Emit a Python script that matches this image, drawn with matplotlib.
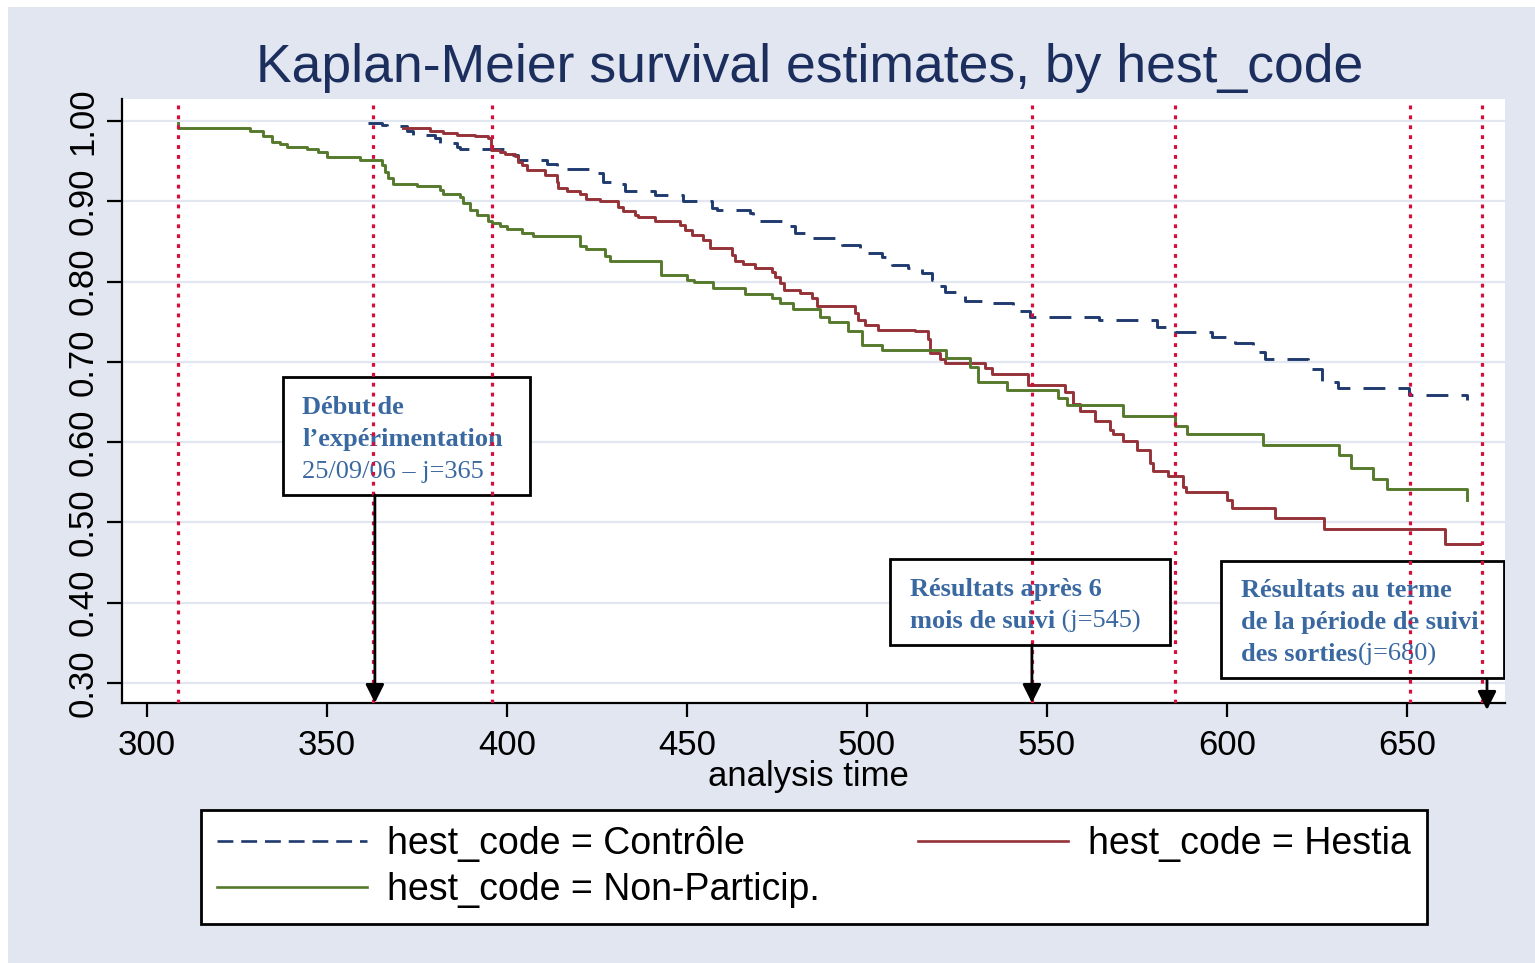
import matplotlib
matplotlib.use('Agg')
import matplotlib.pyplot as plt
from matplotlib.patches import Rectangle
from matplotlib.lines import Line2D

# ---------------- data ----------------
ctrl_t = [361.5, 365.2, 366.6, 372.1, 374.0, 380.0, 381.4, 386.0, 386.9, 401.8,
          403.1, 411.0, 413.8, 424.4, 426.8, 429.1, 432.8, 441.1, 449.0, 456.9,
          458.3, 467.5, 468.4, 470.3, 478.6, 480.0, 483.7, 493.0, 498.1, 504.1,
          506.8, 511.5, 515.2, 518.0, 518.9, 521.7, 524.9, 527.2, 533.2, 540.6,
          545.3, 564.3, 580.5, 585.6, 595.7, 602.2, 607.3, 610.6, 622.6, 626.3,
          630.9, 650.4, 666.6]
ctrl_s = [0.997, 0.995, 0.994, 0.987, 0.983, 0.979, 0.973, 0.968, 0.965, 0.958,
          0.951, 0.947, 0.940, 0.935, 0.924, 0.922, 0.913, 0.908, 0.900, 0.891,
          0.889, 0.885, 0.880, 0.875, 0.869, 0.861, 0.854, 0.846, 0.835, 0.830,
          0.821, 0.817, 0.811, 0.802, 0.794, 0.787, 0.782, 0.776, 0.773, 0.763,
          0.756, 0.752, 0.744, 0.737, 0.731, 0.723, 0.712, 0.704, 0.691, 0.675,
          0.668, 0.659, 0.653]

hest_t = [371.0, 378.6, 382.3, 386.0, 391.1, 394.8, 395.5, 398.1, 399.4, 402.2,
          403.1, 404.1, 405.5, 410.6, 413.8, 414.3, 416.6, 420.3, 421.9, 425.8,
          430.9, 432.3, 435.6, 436.5, 441.1, 448.1, 449.4, 451.3, 454.5, 456.4,
          462.4, 463.3, 465.6, 468.9, 473.5, 474.4, 475.8, 476.8, 481.4, 484.6,
          486.0, 496.7, 497.6, 499.4, 503.1, 513.3, 516.8, 517.5, 520.3, 521.7,
          532.8, 534.6, 544.8, 555.0, 557.3, 559.2, 563.3, 567.5, 568.4, 571.2,
          574.9, 578.6, 579.5, 583.7, 587.9, 588.6, 599.9, 601.3, 613.3, 626.8,
          660.6, 670.3]
hest_s = [0.991, 0.988, 0.985, 0.983, 0.981, 0.979, 0.964, 0.961, 0.959, 0.956,
          0.949, 0.945, 0.939, 0.933, 0.924, 0.916, 0.913, 0.909, 0.903, 0.900,
          0.893, 0.888, 0.883, 0.880, 0.875, 0.871, 0.864, 0.858, 0.852, 0.842,
          0.833, 0.825, 0.822, 0.817, 0.812, 0.806, 0.798, 0.790, 0.786, 0.779,
          0.770, 0.761, 0.752, 0.746, 0.740, 0.738, 0.729, 0.711, 0.704, 0.698,
          0.692, 0.685, 0.671, 0.662, 0.648, 0.639, 0.626, 0.615, 0.610, 0.601,
          0.590, 0.574, 0.564, 0.558, 0.544, 0.538, 0.528, 0.518, 0.505, 0.492,
          0.473, 0.473]

nonp_t = [308.5, 308.6, 328.6, 332.1, 334.6, 336.9, 338.8, 344.4, 347.6, 349.9,
          359.2, 365.2, 366.1, 366.9, 368.4, 374.9, 381.4, 382.1, 386.9, 387.9,
          389.7, 391.6, 394.6, 395.7, 398.1, 399.9, 404.1, 407.3, 420.3, 421.9,
          427.2, 428.6, 442.9, 449.9, 451.8, 457.3, 466.1, 473.5, 475.8, 479.5,
          486.9, 489.3, 494.8, 498.5, 504.1, 521.9, 528.6, 530.7, 538.8, 553.1,
          555.5, 571.2, 585.6, 588.8, 610.1, 631.2, 634.4, 640.5, 644.5, 666.6]
nonp_s = [0.998, 0.991, 0.988, 0.981, 0.974, 0.971, 0.968, 0.965, 0.962, 0.955,
          0.952, 0.945, 0.937, 0.929, 0.922, 0.919, 0.914, 0.909, 0.905, 0.898,
          0.889, 0.883, 0.875, 0.873, 0.869, 0.866, 0.860, 0.857, 0.844, 0.841,
          0.832, 0.825, 0.808, 0.802, 0.799, 0.792, 0.785, 0.779, 0.773, 0.766,
          0.756, 0.750, 0.738, 0.721, 0.715, 0.705, 0.694, 0.675, 0.665, 0.655,
          0.646, 0.632, 0.620, 0.610, 0.597, 0.584, 0.568, 0.554, 0.541, 0.528]

series_labels = ["hest_code = Contrôle", "hest_code = Hestia", "hest_code = Non-Particip."]
x_ticks = [300, 350, 400, 450, 500, 550, 600, 650]
y_ticks = [0.30, 0.40, 0.50, 0.60, 0.70, 0.80, 0.90, 1.00]
marker_days = [308.6, 362.8, 395.8, 545.8, 585.6, 650.8, 670.8]

title = "Kaplan-Meier survival estimates, by hest_code"
xlabel = "analysis time"

# ---------------- style ----------------
C_CTRL = '#1f3a6e'
C_HEST = '#943238'
C_NONP = '#557a2c'
C_RED = '#d40f3c'
C_NOTE = '#3a68a0'
BG = '#e1e6f0'
SANS = 'Liberation Sans'
SERIF = 'Liberation Serif'

W, H = 1535, 963
fig = plt.figure(figsize=(W / 100, H / 100), dpi=100)
fig.patch.set_facecolor('white')
bg = Rectangle((8 / W, 0), 1, (H - 7) / H, transform=fig.transFigure,
               facecolor=BG, edgecolor='none', zorder=-10)
fig.add_artist(bg)

ax = fig.add_axes([122 / W, 1 - 703 / H, (1505 - 122) / W, (703 - 99) / H])
ax.set_zorder(1)
ax.set_facecolor('white')
ax.set_xlim(293.06, 677.2)
ax.set_ylim(0.275, 1.0274)

for y in y_ticks:
    ax.axhline(y, color=BG, lw=1.6, zorder=1)

lw = 2.1
ax.step(ctrl_t, ctrl_s, where='post', color=C_CTRL, lw=lw, ls=(0, (7.5, 4.5)), zorder=3)
ax.step(hest_t, hest_s, where='post', color=C_HEST, lw=lw, zorder=3)
ax.step(nonp_t, nonp_s, where='post', color=C_NONP, lw=lw, zorder=3)

for spine in ['top', 'right']:
    ax.spines[spine].set_visible(False)
for spine in ['left', 'bottom']:
    ax.spines[spine].set_linewidth(1.6)
    ax.spines[spine].set_color('black')

ax.set_xticks(x_ticks)
ax.set_xticklabels([str(v) for v in x_ticks], fontsize=25, family=SANS)
ax.set_yticks(y_ticks)
ax.set_yticklabels([f"{v:.2f}" for v in y_ticks], fontsize=25, family=SANS,
                   rotation=90, va='center')
ax.tick_params(axis='x', length=10, width=1.6, pad=9)
ax.tick_params(axis='y', length=11, width=1.6, pad=5)

ax.set_xlabel(xlabel, fontsize=25, family=SANS)
ax.xaxis.set_label_coords((808 - 122) / (1505 - 122), -(760 - 703) / 604)
ax.xaxis.label.set_va('top')

fig.text(810 / W, 1 - 68 / H, title, ha='center', va='center', fontsize=38.5,
         family=SANS, color='#1c2e5e')

# ---------------- annotation boxes ----------------
renderer = fig.canvas.get_renderer()


def box(x0, y0, x1, y1):
    ax.add_patch(Rectangle((x0, y0), x1 - x0, y1 - y0, facecolor='white',
                           edgecolor='black', lw=2.0, zorder=4))


def line(x, y, parts):
    for txt, wt in parts:
        t = ax.text(x, y, txt, family=SERIF, fontsize=19, weight=wt, color=C_NOTE,
                    ha='left', va='center', zorder=5)
        bb = t.get_window_extent(renderer=renderer)
        x = ax.transData.inverted().transform((bb.x1, bb.y0))[0]


dy = 0.0037
box(337.8, 0.5342, 406.4, 0.6812)
line(343.1, 0.6463 - dy, [("Début de", 'bold')])
line(343.1, 0.6065 - dy, [("l\u2019expérimentation", 'bold')])
line(343.1, 0.5666 - dy, [("25/09/06 \u2013 j=365", 'normal')])

box(506.4, 0.3475, 584.2, 0.4545)
line(511.9, 0.4197 - dy, [("Résultats après 6", 'bold')])
line(511.9, 0.3798 - dy, [("mois de suivi", 'bold'), (" (j=545)", 'normal')])

box(598.3, 0.3064, 677.0, 0.4521)
line(603.9, 0.4184 - dy, [("Résultats au terme", 'bold')])
line(603.9, 0.3786 - dy, [("de la période de suivi", 'bold')])
line(603.9, 0.3387 - dy, [("des sorties", 'bold'), ("(j=680)", 'normal')])

for d in marker_days:
    ax.axvline(d, ymin=0, ymax=0.993, color=C_RED, lw=2.3, ls=(0, (1.2, 1.9)), zorder=6)

arrow_kw = dict(arrowstyle='-|>', color='black', lw=2.0, mutation_scale=28,
                shrinkA=0, shrinkB=0)
for x, y0, y1 in [(363.3, 0.5342, 0.275), (545.8, 0.3475, 0.275), (672.2, 0.3039, 0.2663)]:
    ax.annotate('', xy=(x, y1), xytext=(x, y0), arrowprops=arrow_kw,
                annotation_clip=False, zorder=7)

# ---------------- legend ----------------
handles = [Line2D([], [], color=C_CTRL, lw=1.9, ls=(0, (6, 3))),
           Line2D([], [], color=C_NONP, lw=1.9),
           Line2D([], [], color=C_HEST, lw=1.9)]
labels = [series_labels[0], series_labels[2], series_labels[1]]
leg = fig.legend(handles, labels, ncol=2, loc='center',
                 bbox_to_anchor=(201 / W, 1 - 923 / H, 1226 / W, 112 / H),
                 mode='expand', borderaxespad=0, frameon=True, fancybox=False,
                 prop={'family': SANS, 'size': 27}, handlelength=4.0,
                 handletextpad=0.55, labelspacing=0.28, borderpad=0.42)
leg.get_frame().set_edgecolor('black')
leg.get_frame().set_linewidth(2.0)
leg.get_frame().set_facecolor('white')
leg.get_frame().set_alpha(1)

fig.savefig('out.png', dpi=100, facecolor=fig.get_facecolor())
